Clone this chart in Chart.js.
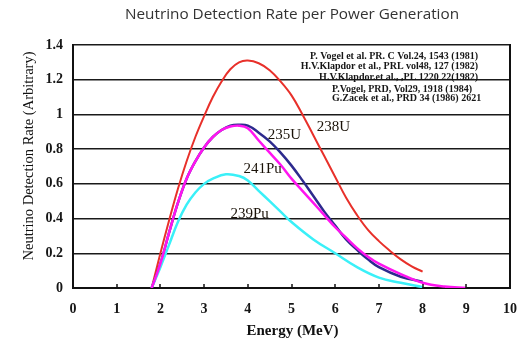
<!DOCTYPE html>
<html>
<head>
<meta charset="utf-8">
<script src="https://cdn.jsdelivr.net/npm/chart.js@4/dist/chart.umd.min.js"></script>
<style>
  html, body { margin: 0; padding: 0; background: #ffffff; }
  #wrap { width: 519px; height: 340px; position: relative; }
</style>
</head>
<body>
<div id="wrap"><canvas id="c" width="519" height="340"></canvas></div>
<script>
// Reactor antineutrino detection rate per fission isotope, vs energy (MeV)
const energyU238 = [1.8, 2.0, 2.2, 2.4, 2.6, 2.8, 3.0, 3.2, 3.4, 3.6, 3.8, 4.0, 4.25, 4.5, 4.75, 5.0, 5.25, 5.5, 5.75, 6.0, 6.25, 6.5, 6.75, 7.0, 7.25, 7.5, 7.75, 8.0];
const rateU238   = [0, 0.20, 0.39, 0.57, 0.73, 0.87, 0.99, 1.10, 1.19, 1.26, 1.30, 1.31, 1.295, 1.255, 1.19, 1.11, 1.00, 0.88, 0.76, 0.64, 0.52, 0.42, 0.335, 0.27, 0.215, 0.165, 0.125, 0.094];

const energyU235 = [1.8, 2.0, 2.2, 2.4, 2.6, 2.8, 3.0, 3.2, 3.4, 3.6, 3.8, 4.0, 4.25, 4.5, 4.75, 5.0, 5.25, 5.5, 5.75, 6.0, 6.25, 6.5, 6.75, 7.0, 7.5, 8.0];
const rateU235   = [0, 0.14, 0.32, 0.49, 0.63, 0.73, 0.81, 0.87, 0.91, 0.935, 0.94, 0.935, 0.895, 0.845, 0.78, 0.705, 0.62, 0.53, 0.44, 0.36, 0.28, 0.22, 0.165, 0.12, 0.065, 0.036];

const energyPu241 = [1.8, 2.0, 2.2, 2.4, 2.6, 2.8, 3.0, 3.2, 3.4, 3.6, 3.8, 4.0, 4.25, 4.5, 4.75, 5.0, 5.25, 5.5, 5.75, 6.0, 6.25, 6.5, 6.75, 7.0, 7.5, 8.0, 8.5, 9.0];
const ratePu241   = [0, 0.14, 0.32, 0.49, 0.63, 0.73, 0.81, 0.87, 0.91, 0.93, 0.935, 0.92, 0.85, 0.78, 0.71, 0.63, 0.56, 0.49, 0.42, 0.35, 0.29, 0.23, 0.18, 0.14, 0.08, 0.03, 0.008, 0];

const energyPu239 = [1.8, 2.0, 2.2, 2.4, 2.6, 2.8, 3.0, 3.2, 3.5, 3.8, 4.0, 4.25, 4.5, 4.75, 5.0, 5.5, 6.0, 6.5, 7.0, 7.5, 8.0];
const ratePu239   = [0, 0.12, 0.25, 0.38, 0.48, 0.55, 0.60, 0.63, 0.655, 0.645, 0.62, 0.56, 0.50, 0.44, 0.38, 0.28, 0.20, 0.12, 0.06, 0.03, 0.005];

const xTickLabels = ['0', '1', '2', '3', '4', '5', '6', '7', '8', '9', '10'];
const yTickLabels = ['0', '0.2', '0.4', '0.6', '0.8', '1', '1.2', '1.4'];

const isotopeNames = ['238U', '235U', '241Pu', '239Pu'];
// where each isotope name sits, in (energy, rate) units
const isotopeLabelEnergy = [5.96, 4.84, 4.34, 4.04];
const isotopeLabelRate   = [0.927, 0.88, 0.685, 0.426];

const referenceLines = [
  'P. Vogel et al. PR. C Vol.24, 1543 (1981)',
  'H.V.Klapdor et al., PRL vol48, 127 (1982)',
  'H.V.Klapdor.et al., ,PL 1220 22(1982)',
  'P.Vogel, PRD, Vol29, 1918 (1984)',
  'G.Zacek et al., PRD 34 (1986) 2621'
];

const chartTitle = 'Neutrino Detection Rate per Power Generation';
const xTitle = 'Energy (MeV)';
const yTitle = 'Neutrino Detection Rate (Arbitrary)';

function points(xs, ys) { return xs.map((x, i) => ({ x: x, y: ys[i] })); }

const SERIF = '"Liberation Serif", "Times New Roman", serif';

const decorations = {
  id: 'decorations',
  afterDraw(chart) {
    const ctx = chart.ctx;
    const area = chart.chartArea;
    const xs = chart.scales.x;
    const ys = chart.scales.y;
    ctx.save();

    // right edge of the plot frame
    ctx.strokeStyle = '#111';
    ctx.lineWidth = 2;
    ctx.beginPath();
    ctx.moveTo(area.right, area.top - 1);
    ctx.lineTo(area.right, area.bottom + 1);
    ctx.stroke();

    // short inward tick marks on the energy axis
    ctx.lineWidth = 1.5;
    xTickLabels.forEach((t, i) => {
      if (i === 0 || i === xTickLabels.length - 1) return;
      const px = Math.round(xs.getPixelForValue(Number(t)));
      ctx.beginPath();
      ctx.moveTo(px, area.bottom);
      ctx.lineTo(px, area.bottom - 4);
      ctx.stroke();
    });

    // title
    ctx.fillStyle = '#333';
    ctx.font = '15.3px "Open Sans", sans-serif';
    ctx.textAlign = 'center';
    ctx.textBaseline = 'middle';
    ctx.fillText(chartTitle, 292, 15);

    // axis titles
    ctx.fillStyle = '#111';
    ctx.font = 'bold 15px ' + SERIF;
    ctx.fillText(xTitle, (area.left + area.right) / 2 + 1, 331);

    ctx.save();
    ctx.translate(29, 156);
    ctx.rotate(-Math.PI / 2);
    ctx.font = '14.5px ' + SERIF;
    ctx.fillText(yTitle, 0, 0);
    ctx.restore();

    // isotope names next to their curves
    ctx.font = '15px ' + SERIF;
    ctx.fillStyle = '#1a1208';
    isotopeNames.forEach((name, i) => {
      ctx.fillText(name, xs.getPixelForValue(isotopeLabelEnergy[i]), ys.getPixelForValue(isotopeLabelRate[i]));
    });

    // literature references
    ctx.font = 'bold 10px ' + SERIF;
    ctx.fillStyle = '#161616';
    const refRows = [56.5, 66.5, 77, 89.5, 98];
    referenceLines.forEach((line, i) => {
      if (i < 3) { ctx.textAlign = 'right'; ctx.fillText(line, 478, refRows[i]); }
      else { ctx.textAlign = 'left'; ctx.fillText(line, 332, refRows[i]); }
    });

    ctx.restore();
  }
};

new Chart(document.getElementById('c'), {
  type: 'scatter',
  data: {
    datasets: [
      { label: isotopeNames[0], data: points(energyU238, rateU238), borderColor: '#e8302a', borderWidth: 2, order: 3 },
      { label: isotopeNames[1], data: points(energyU235, rateU235), borderColor: '#2d2a8e', borderWidth: 2.5, order: 2 },
      { label: isotopeNames[2], data: points(energyPu241, ratePu241), borderColor: '#ff14f0', borderWidth: 2.5, order: 0 },
      { label: isotopeNames[3], data: points(energyPu239, ratePu239), borderColor: '#3af0f8', borderWidth: 2.5, order: 1 }
    ].map(d => Object.assign(d, {
      showLine: true,
      pointRadius: 0,
      fill: false,
      tension: 0.4
    }))
  },
  options: {
    responsive: false,
    animation: false,
    devicePixelRatio: 1,
    layout: { padding: { top: 45, right: 9, left: 0, bottom: 0 } },
    plugins: { legend: { display: false }, tooltip: { enabled: false }, title: { display: false } },
    scales: {
      x: {
        type: 'linear',
        min: 0, max: 10,
        afterFit(scale) { scale.height = 52; scale.paddingLeft = 0; scale.paddingRight = 0; },
        ticks: {
          stepSize: 1,
          autoSkip: false,
          maxRotation: 0,
          padding: 5,
          color: '#161616',
          font: { family: SERIF, size: 14, weight: 'bold' },
          callback: (v, i) => xTickLabels[i]
        },
        grid: { display: false },
        border: { display: true, color: '#111', width: 2 }
      },
      y: {
        min: 0, max: 1.4,
        afterFit(scale) { scale.width = 73; scale.paddingTop = 0; scale.paddingBottom = 0; },
        ticks: {
          stepSize: 0.2,
          padding: 10,
          color: '#161616',
          font: { family: SERIF, size: 14, weight: 'bold' },
          callback: (v, i) => yTickLabels[i]
        },
        grid: { color: '#1a1a1a', lineWidth: 1.5, drawTicks: false },
        border: { display: true, color: '#111', width: 2 }
      }
    }
  },
  plugins: [decorations]
});
</script>
</body>
</html>
